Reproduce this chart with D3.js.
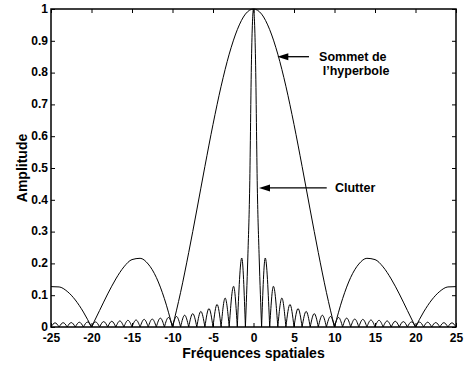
<!DOCTYPE html>
<html>
<head>
<meta charset="utf-8">
<script src="https://cdn.jsdelivr.net/npm/d3@7"></script>
<style>
    body { margin: 0; background: white; }
    svg { display: block; }
</style>
</head>
<body>
<div id="vis"></div>
<script>
// wide curve (hyperbola apex), sampled each unit
const wideX = [-25, -24, -23, -22, -21, -20, -19, -18, -17, -16, -15, -14, -13, -12, -11, -10,
    -9, -8, -7, -6, -5, -4, -3, -2, -1, 0, 1, 2, 3, 4, 5, 6, 7, 8, 9,
    10, 11, 12, 13, 14, 15, 16, 17, 18, 19, 20, 21, 22, 23, 24, 25];
const wideY = [0.127, 0.126, 0.112, 0.085, 0.047, 0, 0.052, 0.104, 0.151, 0.189, 0.212, 0.216, 0.198, 0.156, 0.089, 0,
    0.109, 0.234, 0.368, 0.505, 0.637, 0.757, 0.858, 0.935, 0.984, 1, 0.984, 0.935, 0.858, 0.757, 0.637, 0.505, 0.368, 0.234, 0.109,
    0, 0.089, 0.156, 0.198, 0.216, 0.212, 0.189, 0.151, 0.104, 0.052, 0, 0.047, 0.085, 0.112, 0.126, 0.127];

// narrow curve (clutter): zeros, side lobe peaks, main lobe
const narrowZeros = [-25, -24, -23, -22, -21, -20, -19, -18, -17, -16, -15, -14, -13, -12, -11, -10,
    -9, -8, -7, -6, -5, -4, -3, -2, -1, 1, 2, 3, 4, 5, 6, 7, 8, 9,
    10, 11, 12, 13, 14, 15, 16, 17, 18, 19, 20, 21, 22, 23, 24, 25];
const narrowPeakX = [-24.5, -23.5, -22.5, -21.5, -20.5, -19.5, -18.5, -17.5, -16.5, -15.5, -14.5, -13.5, -12.5, -11.5, -10.5,
    -9.5, -8.5, -7.5, -6.5, -5.5, -4.5, -3.5, -2.46, -1.45,
    1.45, 2.46, 3.5, 4.5, 5.5, 6.5, 7.5, 8.5, 9.5,
    10.5, 11.5, 12.5, 13.5, 14.5, 15.5, 16.5, 17.5, 18.5, 19.5, 20.5, 21.5, 22.5, 23.5, 24.5];
const narrowPeakY = [0.013, 0.0135, 0.014, 0.015, 0.0155, 0.016, 0.017, 0.018, 0.019, 0.021, 0.022, 0.024, 0.025, 0.028, 0.030,
    0.033, 0.037, 0.042, 0.049, 0.058, 0.071, 0.091, 0.128, 0.217,
    0.217, 0.128, 0.091, 0.071, 0.058, 0.049, 0.042, 0.037, 0.033,
    0.030, 0.028, 0.025, 0.024, 0.022, 0.021, 0.019, 0.018, 0.017, 0.016, 0.0155, 0.015, 0.014, 0.0135, 0.013];
const mainLobeX = [-1, -0.7, -0.47, -0.25, 0, 0.25, 0.47, 0.7, 1];
const mainLobeY = [0, 0.22, 0.44, 0.84, 1, 0.84, 0.44, 0.22, 0];

const xTicks = [-25, -20, -15, -10, -5, 0, 5, 10, 15, 20, 25];
const yTicks = [0, 0.1, 0.2, 0.3, 0.4, 0.5, 0.6, 0.7, 0.8, 0.9, 1];

const width = 465;
const height = 365;
const margin = {top: 9, right: 9, bottom: 38, left: 51};
const font = '"Liberation Sans", Arial, Helvetica, sans-serif';

const svg = d3.select('#vis')
    .append('svg')
    .attr('width', width)
    .attr('height', height);

const x = d3.scaleLinear()
    .domain([-25, 25])
    .range([margin.left, width - margin.right]);

const y = d3.scaleLinear()
    .domain([0, 1])
    .range([height - margin.bottom, margin.top]);

function fmtX(d) {
    return d < 0 ? '-' + Math.abs(d) : String(d);
}

function fmtY(d) {
    if (d === 0) return '0';
    if (d === 1) return '1';
    return d.toFixed(1);
}

// split a series into lobes at its zeros so that the cusps stay sharp
function splitLobes(xs, ys) {
    const lobes = [];
    let cur = [];
    for (let i = 0; i < xs.length; i++) {
        cur.push([xs[i], ys[i]]);
        if (ys[i] === 0 && cur.length > 1) {
            lobes.push(cur);
            cur = [[xs[i], ys[i]]];
        }
    }
    if (cur.length > 1) lobes.push(cur);
    return lobes;
}

function narrowLobes() {
    const lobes = [];
    let j = 0;
    for (let i = 0; i < narrowZeros.length - 1; i++) {
        const a = narrowZeros[i];
        const b = narrowZeros[i + 1];
        if (a < 0 && b > 0) {
            lobes.push(mainLobeX.map((v, k) => [v, mainLobeY[k]]));
        } else {
            lobes.push([[a, 0], [narrowPeakX[j], narrowPeakY[j]], [b, 0]]);
            j++;
        }
    }
    return lobes;
}

const line = d3.line()
    .x(d => x(d[0]))
    .y(d => y(d[1]))
    .curve(d3.curveMonotoneX);

const curves = svg.append('g')
    .attr('fill', 'none')
    .attr('stroke', 'black')
    .attr('stroke-width', 1);

curves.selectAll('path.wide')
    .data(splitLobes(wideX, wideY))
    .join('path')
    .attr('class', 'wide')
    .attr('d', line);

curves.selectAll('path.narrow')
    .data(narrowLobes())
    .join('path')
    .attr('class', 'narrow')
    .attr('d', line);

// axes, ticks pointing inward
function styleAxis(g) {
    g.select('.domain').remove();
    g.selectAll('.tick line').attr('stroke', 'black').attr('stroke-width', 1);
    g.selectAll('.tick text')
        .attr('fill', 'black')
        .attr('font-family', font)
        .attr('font-weight', 'bold')
        .attr('font-size', '12px');
}

svg.append('g')
    .attr('transform', `translate(0,${y(0)})`)
    .call(d3.axisBottom(x).tickValues(xTicks).tickFormat(fmtX).tickSizeInner(-4).tickSizeOuter(0).tickPadding(6))
    .call(styleAxis);

svg.append('g')
    .attr('transform', `translate(0,${y(1)})`)
    .call(d3.axisTop(x).tickValues(xTicks).tickFormat('').tickSizeInner(-4).tickSizeOuter(0))
    .call(styleAxis);

svg.append('g')
    .attr('transform', `translate(${x(-25)},0)`)
    .call(d3.axisLeft(y).tickValues(yTicks).tickFormat(fmtY).tickSizeInner(-4).tickSizeOuter(0).tickPadding(3))
    .call(styleAxis)
    .call(g => g.selectAll('.tick text').attr('dy', '0.28em'));

svg.append('g')
    .attr('transform', `translate(${x(25)},0)`)
    .call(d3.axisRight(y).tickValues(yTicks).tickFormat('').tickSizeInner(-4).tickSizeOuter(0))
    .call(styleAxis);

svg.append('rect')
    .attr('x', x(-25))
    .attr('y', y(1))
    .attr('width', x(25) - x(-25))
    .attr('height', y(0) - y(1))
    .attr('fill', 'none')
    .attr('stroke', 'black')
    .attr('stroke-width', 1.5);

// axis titles
svg.append('text')
    .attr('x', (x(-25) + x(25)) / 2)
    .attr('y', 357.5)
    .attr('text-anchor', 'middle')
    .attr('font-family', font)
    .attr('font-weight', 'bold')
    .attr('font-size', '14px')
    .text('Fréquences spatiales');

svg.append('text')
    .attr('transform', `translate(27,${(y(0) + y(1)) / 2}) rotate(-90)`)
    .attr('text-anchor', 'middle')
    .attr('font-family', font)
    .attr('font-weight', 'bold')
    .attr('font-size', '14px')
    .text('Amplitude');

// annotations
function arrow(tipX, tipY, tailX) {
    const tx = x(tipX);
    const ty = y(tipY);
    svg.append('line')
        .attr('x1', x(tailX))
        .attr('y1', ty)
        .attr('x2', tx + 6)
        .attr('y2', ty)
        .attr('stroke', 'black')
        .attr('stroke-width', 1.3);
    svg.append('path')
        .attr('d', `M${tx},${ty} L${tx + 11},${ty - 3.5} L${tx + 11},${ty + 3.5} Z`)
        .attr('fill', 'black');
}

function label(lx, ly, str) {
    svg.append('text')
        .attr('x', x(lx))
        .attr('y', y(ly))
        .attr('font-family', font)
        .attr('font-weight', 'bold')
        .attr('font-size', '12.5px')
        .text(str);
}

arrow(2.94, 0.85, 6.85);
label(8.1, 0.837, 'Sommet de');
label(8.55, 0.792, 'l’hyperbole');

arrow(0.68, 0.4375, 9.04);
label(10.06, 0.425, 'Clutter');
</script>
</body>
</html>
